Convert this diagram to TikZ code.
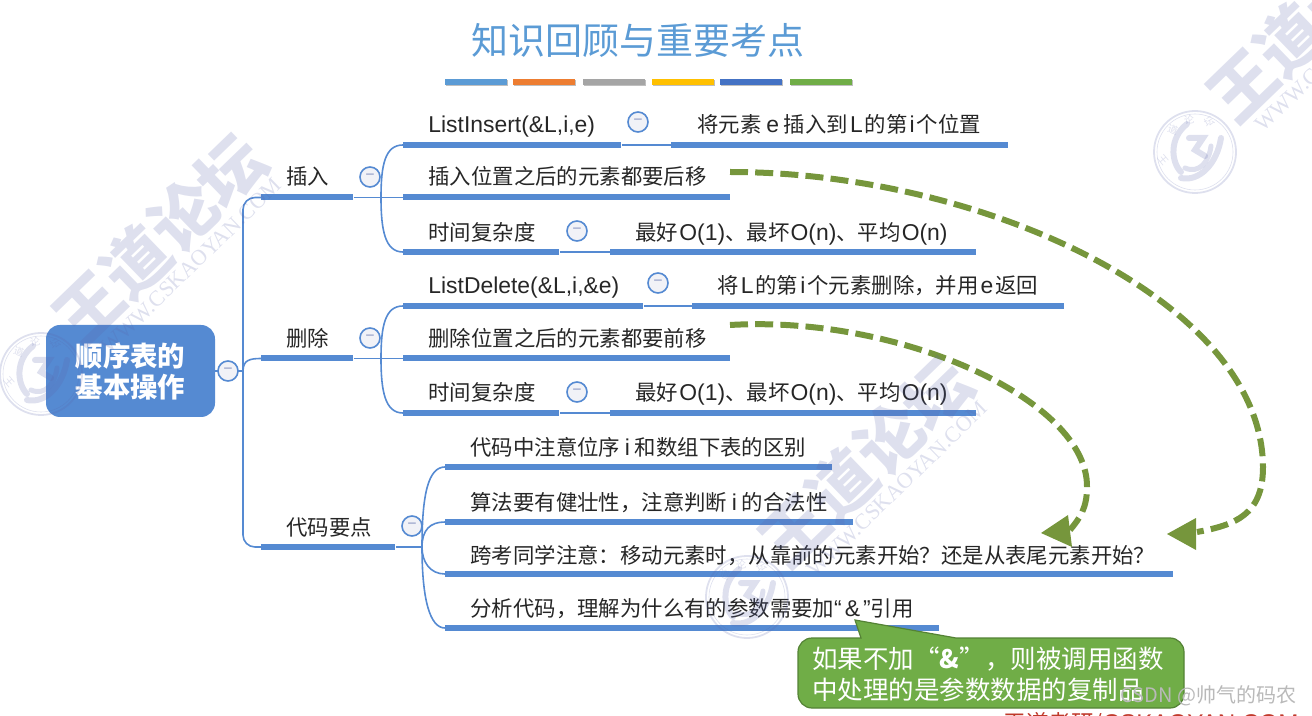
\documentclass[tikz,border=0pt]{standalone}
\usepackage{fontspec}
\setmainfont{Noto Sans CJK SC}
\newfontfamily\latinsans[Scale=1.07]{Liberation Sans}
\newfontfamily\markserif{Liberation Serif}
\usetikzlibrary{arrows.meta,shadows}
\definecolor{mapblue}{HTML}{558AD2}
\definecolor{titleblue}{HTML}{5B9BD5}
\definecolor{hintgreen}{HTML}{70AD47}
\definecolor{hintedge}{HTML}{548235}
\definecolor{dashgreen}{HTML}{76963C}
\definecolor{markgray}{HTML}{5A64AA}
\definecolor{foldminus}{HTML}{8E9AC4}
\definecolor{foldfill}{HTML}{F1F2F7}
\tikzset{
  bar/.style={fill=mapblue, inner sep=0pt, minimum height=3pt, anchor=west},
  link/.style={draw=mapblue, line width=0.8pt},
  item/.style={anchor=west, inner sep=0pt, text height=10.2pt, text depth=1.2pt, font=\fontsize{10.7}{12}\selectfont, text=black!85},
  fold/.style={circle, draw=mapblue, line width=0.8pt, fill=foldfill, inner sep=0pt, minimum size=10pt,
    font=\fontsize{8}{8}\selectfont, text=foldminus},
  swatch/.style={inner sep=0pt, minimum width=31pt, minimum height=3pt, anchor=west,
    drop shadow={shadow xshift=0.3pt, shadow yshift=-0.4pt, fill=gray, opacity=0.5}},
  movearrow/.style={draw=dashgreen, line width=3pt, dash pattern=on 9pt off 3.6pt},
  movetip/.style={fill=dashgreen, draw=none},
  wmark/.pic={
    \begin{scope}[opacity=0.2, markgray]
      \node[rotate=44, font=\fontsize{33}{33}\selectfont\bfseries, text=markgray, inner sep=0pt] (big) at (119,-135) {王道论坛};
      \node[rotate=44, font=\fontsize{11}{12}\selectfont\markserif, text=markgray, inner sep=0pt] (web) at (150,-108) {WWW.CSKAOYAN.COM};
      \draw[line width=0.9pt] (0,0) circle (41);
      \draw[line width=0.3pt] (0,0) circle (38);
      \draw[line width=3pt, line cap=round] (-8,-28) .. controls (-26,-14) and (-24,10) .. (-14,20);
      \draw[line width=3pt, line cap=round] (-14,26) .. controls (4,30) and (22,12) .. (26,-14);
      \draw[line width=2.5pt, line cap=round] (-10,16) .. controls (4,22) and (14,10) .. (16,-6);
      \draw[line width=3pt, line cap=round] (-6,-14) -- (8,-14) -- (0,-2) -- (10,4);
      \node[rotate=-50, font=\fontsize{5}{5}\selectfont, text=markgray, inner sep=0pt] (sa) at (-31,8) {王};
      \node[rotate=-20, font=\fontsize{5}{5}\selectfont, text=markgray, inner sep=0pt] (sb) at (-22,-22) {道};
      \node[rotate=10, font=\fontsize{5}{5}\selectfont, text=markgray, inner sep=0pt] (sc) at (-6,-32) {论};
      \node[rotate=30, font=\fontsize{5}{5}\selectfont, text=markgray, inner sep=0pt] (sd) at (14,-30) {坛};
    \end{scope}
  }
}
\begin{document}
\begin{tikzpicture}[x=0.5pt, y=-0.5pt]
    \useasboundingbox (0,0) rectangle (1312,716);
    \clip (0,0) rectangle (1312,716);

    % Title and colour strip
    \node[font=\fontsize{18.5}{20}\selectfont, text=titleblue, inner sep=0pt] (title) at (637.5,40) {知识回顾与重要考点};
    \node[swatch, fill=titleblue] (sw1) at (445,82) {};
    \node[swatch, fill={rgb,255:red,237;green,125;blue,49}] (sw2) at (513,82) {};
    \node[swatch, fill={rgb,255:red,165;green,165;blue,165}] (sw3) at (583,82) {};
    \node[swatch, fill={rgb,255:red,255;green,192;blue,0}] (sw4) at (652,82) {};
    \node[swatch, fill={rgb,255:red,68;green,114;blue,196}] (sw5) at (720,82) {};
    \node[swatch, fill=hintgreen] (sw6) at (790,82) {};

    % Root
    \node[fill=mapblue, rounded corners=7pt, minimum width=84.5pt, minimum height=46pt, align=center, text=white,
      font=\fontsize{13.7}{15.5}\selectfont\bfseries, inner sep=0pt] (root) at (130.5,371) {顺序表的\\基本操作};

    % Three main branches
    \node[bar, minimum width=46pt] (ins) at (261,197.5) {};
    \node[bar, minimum width=46pt] (del) at (261,358.5) {};
    \node[bar, minimum width=67pt] (code) at (261,547) {};
    \node[item] (instext) at (286,176) {插入};
    \node[item] (deltext) at (286,338) {删除};
    \node[item] (codetext) at (286,526) {代码要点};
    \coordinate (rootfork) at (243,371);
    \draw[link, rounded corners=6pt] (ins.west) -- (243,197.5) -- (243,547) -- (code.west);
    \draw[link] (root.east) -- (rootfork);
    \draw[link] (rootfork) .. controls (243,360) and (250,358.5) .. (del.west);
    \node[fold] (foldroot) at (228,371) {−};
    \node[fold] (foldins) at (370,177) {−};
    \node[fold] (folddel) at (370,338) {−};
    \node[fold] (foldcode) at (412,526) {−};

    % Insert
    \node[bar, minimum width=109pt] (ins1) at (403,145) {};
    \node[bar, minimum width=168.5pt] (ins1b) at (671,145) {};
    \node[bar, minimum width=163.5pt] (ins2) at (403,197.5) {};
    \node[bar, minimum width=78pt] (ins3) at (403,252) {};
    \node[bar, minimum width=183pt] (ins3b) at (610,252) {};
    \node[item] (ins1t) at (428,124) {\latinsans ListInsert(\&L,i,e)};
    \node[item] (ins1v) at (697,124) {将元素 {\latinsans e} 插入到\kern1pt{\latinsans L}\kern1pt的第\kern1pt{\latinsans i}\kern1pt个位置};
    \node[item] (ins2t) at (428,176) {插入位置之后的元素都要后移};
    \node[item] (ins3t) at (428,232) {时间复杂度};
    \node[item] (ins3v) at (635,232) {最好\kern.6pt{\latinsans O(1)}、最坏\kern.6pt{\latinsans O(n)}、平均\kern.6pt{\latinsans O(n)}};
    \coordinate (insfork) at (381,197.5);
    \draw[link] (ins.east) -- (ins2.west);
    \draw[link] (insfork) .. controls (381,165) and (385,145) .. (ins1.west);
    \draw[link] (insfork) .. controls (381,230) and (385,252) .. (ins3.west);
    \draw[link] (ins1.east) -- (ins1b.west);
    \draw[link] (ins3.east) -- (ins3b.west);
    \node[fold] (foldins1) at (638,122) {−};
    \node[fold] (foldins3) at (577,231) {−};

    % Delete
    \node[bar, minimum width=120pt] (del1) at (403,306) {};
    \node[bar, minimum width=186pt] (del1b) at (692,306) {};
    \node[bar, minimum width=163.5pt] (del2) at (403,358.5) {};
    \node[bar, minimum width=78pt] (del3) at (403,413) {};
    \node[bar, minimum width=183pt] (del3b) at (610,413) {};
    \node[item] (del1t) at (428,285) {\latinsans ListDelete(\&L,i,\&e)};
    \node[item] (del1v) at (717,285) {将\kern1pt{\latinsans L}\kern1pt的第\kern1pt{\latinsans i}\kern1pt个元素删除，并用\kern1pt{\latinsans e}\kern1pt返回};
    \node[item] (del2t) at (428,338) {删除位置之后的元素都要前移};
    \node[item] (del3t) at (428,392) {时间复杂度};
    \node[item] (del3v) at (635,392) {最好\kern.6pt{\latinsans O(1)}、最坏\kern.6pt{\latinsans O(n)}、平均\kern.6pt{\latinsans O(n)}};
    \coordinate (delfork) at (381,358.5);
    \draw[link] (del.east) -- (del2.west);
    \draw[link] (delfork) .. controls (381,326) and (385,306) .. (del1.west);
    \draw[link] (delfork) .. controls (381,391) and (385,413) .. (del3.west);
    \draw[link] (del1.east) -- (del1b.west);
    \draw[link] (del3.east) -- (del3b.west);
    \node[fold] (folddel1) at (658,283) {−};
    \node[fold] (folddel3) at (577,392) {−};

    % Code notes
    \node[bar, minimum width=193.5pt] (code1) at (445,467) {};
    \node[bar, minimum width=204pt] (code2) at (445,522) {};
    \node[bar, minimum width=364pt] (code3) at (445,574) {};
    \node[bar, minimum width=247pt] (code4) at (445,628) {};
    \node[item] (code1t) at (470,447) {代码中注意位序 {\latinsans i} 和数组下表的区别};
    \node[item] (code2t) at (470,501) {算法要有健壮性，注意判断 {\latinsans i} 的合法性};
    \node[item] (code3t) at (470,554) {跨考同学注意：移动元素时，从靠前的元素开始？还是从表尾元素开始？};
    \node[item] (code4t) at (470,607) {分析代码，理解为什么有的参数需要加{\latinsans “\kern1.5pt\&\kern1.5pt”}引用};
    \coordinate (codefork) at (422,547);
    \draw[link] (code.east) -- (codefork);
    \draw[link] (codefork) .. controls (422,495) and (428,467) .. (code1.west);
    \draw[link] (codefork) .. controls (422,530) and (430,522) .. (code2.west);
    \draw[link] (codefork) .. controls (422,562) and (430,574) .. (code3.west);
    \draw[link] (codefork) .. controls (422,600) and (430,628) .. (code4.west);

    % Hint bubble
    \draw[fill=hintgreen, draw=hintedge, line width=0.6pt, rounded corners=7pt]
      (798,638) [sharp corners] -- (861,638) -- (855,620) -- (956,638) [rounded corners=7pt] -- (1184,638) -- (1184,708) -- (798,708) -- cycle;
    \node[anchor=west, inner sep=0pt, align=left, text=white, font=\fontsize{12.75}{15.5}\selectfont] (hint) at (812,674)
      {如果不加“{\bfseries\&}”，则被调用函数\\中处理的是参数数据的复制品};

    % Move arrows
    \coordinate (end1) at (1197,532);
    \coordinate (end2) at (1070,530);
    \draw[movearrow] (730,172) .. controls (980,172) and (1262,300) .. (1263,467)
      .. controls (1263,515) and (1235,525) .. (end1);
    \draw[movearrow] (730,325) .. controls (900,315) and (1088,400) .. (1087,487)
      .. controls (1087,508) and (1080,518) .. (end2);
    \fill[movetip] (1167,534) -- (1196,518) -- (1196,550) -- cycle;
    \fill[movetip] (1041,533) -- (1068,515) -- (1072,547) -- cycle;

    % Watermarks
    \pic (wa) at (41,374) {wmark};
    \pic (wb) at (747,597) {wmark};
    \pic (wc) at (1195,152) {wmark};

    % Corner texts
    \node[anchor=west, inner sep=0pt, text={rgb,255:red,192;green,57;blue,43}, font=\fontsize{11.3}{12}\selectfont] (brand) at (1003,724) {王道考研/{\latinsans CSKAOYAN.COM}};
    \node[anchor=west, inner sep=0pt, text=gray!55, font=\fontsize{10}{11}\selectfont] (csdn) at (1120,696) {CSDN @帅气的码农};
\end{tikzpicture}
\end{document}
